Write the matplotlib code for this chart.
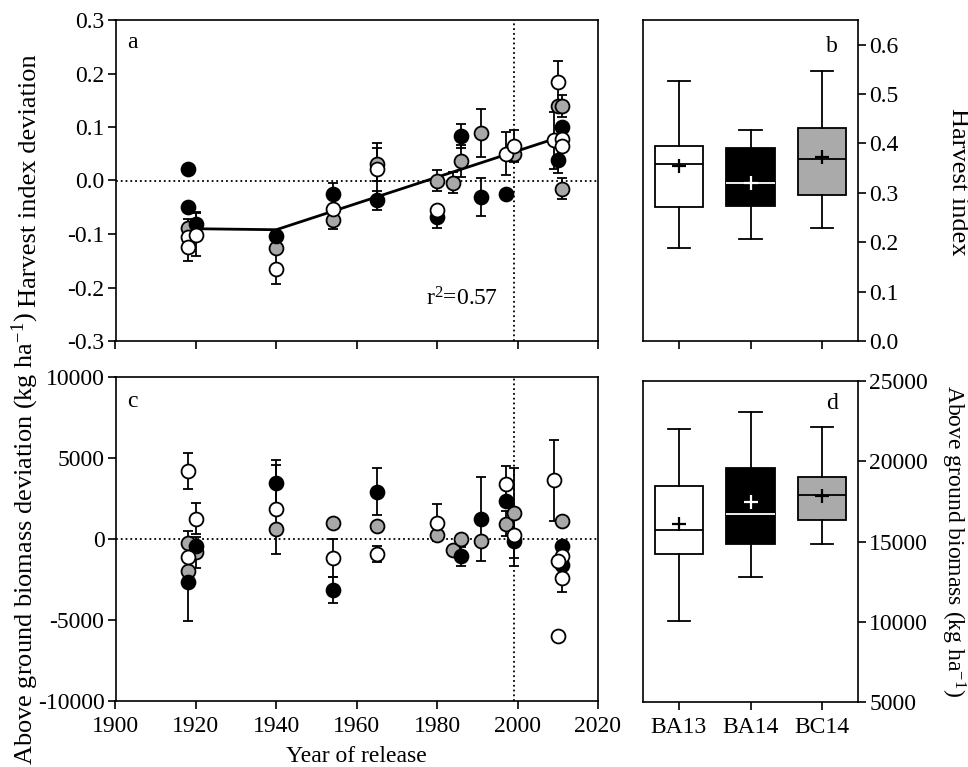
import matplotlib
matplotlib.use("Agg")
import matplotlib.pyplot as plt
import numpy as np

plt.rcParams["font.family"] = ["Liberation Serif", "DejaVu Serif"]
plt.rcParams["mathtext.fontset"] = "custom"
plt.rcParams["mathtext.rm"] = "Liberation Serif"
plt.rcParams["mathtext.it"] = "Liberation Serif:italic"
plt.rcParams["axes.unicode_minus"] = False

# ---------------- harvest index deviation vs. year of release ----------------
hi_ba13_year = [1918, 1918, 1920, 1940, 1954, 1965, 1980, 1997, 1999, 2010, 2009, 2011, 2011]
hi_ba13_dev = [-0.105, -0.124, -0.101, -0.165, -0.053, 0.021, -0.055, 0.050, 0.064, 0.184, 0.075, 0.078, 0.064]
hi_ba13_err = [0.0, 0.027, 0.040, 0.029, 0.0, 0.050, 0.0, 0.040, 0.030, 0.039, 0.053, 0.0, 0.0]

hi_ba14_year = [1918, 1918, 1920, 1940, 1954, 1965, 1980, 1986, 1991, 1997, 2010, 2011]
hi_ba14_dev = [0.021, -0.050, -0.082, -0.104, -0.025, -0.037, -0.068, 0.083, -0.031, -0.025, 0.039, 0.100]
hi_ba14_err = [0.0, 0.0, 0.024, 0.0, 0.021, 0.018, 0.020, 0.022, 0.036, 0.0, 0.025, 0.0]

hi_bc14_year = [1918, 1940, 1954, 1965, 1980, 1984, 1986, 1991, 1999, 2010, 2011, 2011]
hi_bc14_dev = [-0.088, -0.126, -0.074, 0.030, 0.000, -0.004, 0.037, 0.089, 0.049, 0.139, 0.139, -0.015]
hi_bc14_err = [0.016, 0.0, 0.016, 0.031, 0.019, 0.019, 0.030, 0.045, 0.0, 0.0, 0.020, 0.019]

# segmented regression fitted to the harvest index deviation
fit_year = [1918, 1940, 2010]
fit_value = [-0.090, -0.092, 0.080]
fit_r2 = 0.57

# ---------------- biomass deviation vs. year of release ----------------
bm_ba13_year = [1918, 1918, 1920, 1940, 1954, 1965, 1980, 1997, 1999, 2009, 2011, 2010, 2011, 2010]
bm_ba13_dev = [4212, -1120, 1245, 1826, -1183, -913, 996, 3382, 228, 3631, -1037, -1349, -2386, -6017]
bm_ba13_err = [1100, 0, 950, 2740, 1183, 480, 1140, 1100, 0, 2490, 0, 0, 870, 0]

bm_ba14_year = [1918, 1920, 1940, 1954, 1965, 1986, 1991, 1997, 1999, 2011, 2011]
bm_ba14_dev = [-2635, -415, 3445, -3154, 2926, -1079, 1245, 2345, -145, -456, -1598]
bm_ba14_err = [2450, 0, 1430, 780, 1450, 580, 2600, 0, 1515, 0, 0]

bm_bc14_year = [1918, 1918, 1920, 1940, 1954, 1965, 1980, 1984, 1986, 1991, 1997, 1999, 2011]
bm_bc14_dev = [-249, -1971, -830, 643, 996, 788, 228, -664, 21, -104, 954, 1577, 1100]
bm_bc14_err = [730, 0, 975, 0, 0, 0, 0, 0, 0, 0, 790, 2780, 0]

# ---------------- environment summaries (box plots) ----------------
env_names = ["BA13", "BA14", "BC14"]
hi_whislo = [0.188, 0.206, 0.229]
hi_q1 = [0.271, 0.273, 0.295]
hi_med = [0.358, 0.319, 0.368]
hi_q3 = [0.395, 0.390, 0.432]
hi_whishi = [0.526, 0.427, 0.547]
hi_mean = [0.354, 0.320, 0.372]

bm_whislo = [10073, 12817, 14875]
bm_q1 = [14210, 14834, 16331]
bm_med = [15686, 16726, 17869]
bm_q3 = [18430, 19553, 18992]
bm_whishi = [21985, 23087, 22131]
bm_mean = [16102, 17474, 17807]

env_fill = ["#ffffff", "#000000", "#aaaaaa"]
env_inner = ["#000000", "#ffffff", "#000000"]

release_line_year = 1999

FS_TICK = 17
FS_LAB = 19
LW = 1.2

fig = plt.figure(figsize=(9.68, 7.67), dpi=100)
W, H = 968.0, 767.0


def axes_px(left, top, right, bottom):
    return fig.add_axes([left / W, 1 - bottom / H, (right - left) / W, (bottom - top) / H])


ax_a = axes_px(115.5, 20, 598, 341)
ax_c = axes_px(115.5, 377, 598, 701)
ax_b = axes_px(643, 20, 858, 341)
ax_d = axes_px(643, 381, 858, 702)

for ax in (ax_a, ax_b, ax_c, ax_d):
    for s in ax.spines.values():
        s.set_linewidth(LW)
    ax.tick_params(direction="out", length=6, width=LW, labelsize=FS_TICK, pad=2)
    ax.tick_params(axis="x", pad=5)


def draw_series(ax, years, vals, errs, face):
    years = np.asarray(years, float)
    vals = np.asarray(vals, float)
    errs = np.asarray(errs, float)
    m = errs > 0
    ax.errorbar(years[m], vals[m], yerr=errs[m], fmt="none", ecolor="black",
                elinewidth=1.3, capsize=3.5, capthick=1.3, zorder=2)
    ax.plot(years, vals, "o", ms=10, mfc=face, mec="black", mew=1.3,
            linestyle="none", zorder=3)


gray_pt = "#a8a8a8"

# panel a
draw_series(ax_a, hi_bc14_year, hi_bc14_dev, hi_bc14_err, gray_pt)
draw_series(ax_a, hi_ba14_year, hi_ba14_dev, hi_ba14_err, "black")
draw_series(ax_a, hi_ba13_year, hi_ba13_dev, hi_ba13_err, "white")
ax_a.plot(fit_year, fit_value, "-", color="black", lw=2.0, zorder=2.5)
ax_a.axhline(0, color="black", ls=":", lw=1.3, zorder=1)
ax_a.axvline(release_line_year, color="black", ls=":", lw=1.3, zorder=1)
ax_a.set_xlim(1900, 2020)
ax_a.set_ylim(-0.3, 0.3)
ax_a.set_xticks(np.arange(1900, 2021, 20))
ax_a.tick_params(axis="x", labelbottom=False)
ax_a.set_yticks(np.arange(-0.3, 0.31, 0.1))
ax_a.set_yticklabels(["%.1f" % v for v in np.arange(-0.3, 0.31, 0.1)])
ax_a.text(0.034, 0.93, "a", transform=ax_a.transAxes, fontsize=FS_TICK, ha="center", va="center")
ax_a.text(1986.2, -0.222, r"r$\mathregular{^2}$=%.2f" % fit_r2, fontsize=FS_TICK, ha="center", va="center")
ax_a.set_ylabel("Harvest index deviation", fontsize=FS_LAB)

# panel c
draw_series(ax_c, bm_bc14_year, bm_bc14_dev, bm_bc14_err, gray_pt)
draw_series(ax_c, bm_ba14_year, bm_ba14_dev, bm_ba14_err, "black")
draw_series(ax_c, bm_ba13_year, bm_ba13_dev, bm_ba13_err, "white")
ax_c.axhline(0, color="black", ls=":", lw=1.3, zorder=1)
ax_c.axvline(release_line_year, color="black", ls=":", lw=1.3, zorder=1)
ax_c.set_xlim(1900, 2020)
ax_c.set_ylim(-10000, 10000)
ax_c.set_xticks(np.arange(1900, 2021, 20))
ax_c.set_yticks(np.arange(-10000, 10001, 5000))
ax_c.text(0.034, 0.923, "c", transform=ax_c.transAxes, fontsize=FS_TICK, ha="center", va="center")
ax_c.set_xlabel("Year of release", fontsize=FS_TICK, labelpad=6)
ax_c.set_ylabel(r"Above ground biomass deviation (kg ha$\mathregular{^{-1}}$)", fontsize=FS_LAB)

for ax in (ax_a, ax_c):
    ax.yaxis.set_label_coords(-0.155, 0.5)


def draw_boxes(ax, whislo, q1, med, q3, whishi, mean):
    for i in range(len(env_names)):
        st = dict(whislo=whislo[i], q1=q1[i], med=med[i], q3=q3[i],
                  whishi=whishi[i], mean=mean[i], label=env_names[i])
        ax.bxp([st], positions=[i + 1], widths=0.67, capwidths=0.31,
               showmeans=True, showfliers=False, patch_artist=True,
               boxprops=dict(facecolor=env_fill[i], edgecolor="black", linewidth=1.3),
               whiskerprops=dict(color="black", linewidth=1.3),
               capprops=dict(color="black", linewidth=1.3),
               medianprops=dict(color=env_inner[i], linewidth=1.3),
               meanprops=dict(marker="+", markeredgecolor=env_inner[i],
                              markersize=10, markeredgewidth=1.6))
    ax.set_xlim(0.5, 3.5)
    ax.set_xticks([1, 2, 3])
    ax.yaxis.tick_right()


draw_boxes(ax_b, hi_whislo, hi_q1, hi_med, hi_q3, hi_whishi, hi_mean)
ax_b.set_ylim(0, 0.65)
ax_b.set_yticks(np.arange(0, 0.61, 0.1))
ax_b.set_yticklabels(["%.1f" % v for v in np.arange(0, 0.61, 0.1)])
ax_b.tick_params(axis="x", labelbottom=False)
ax_b.text(0.879, 0.916, "b", transform=ax_b.transAxes, fontsize=FS_TICK, ha="center", va="center")

draw_boxes(ax_d, bm_whislo, bm_q1, bm_med, bm_q3, bm_whishi, bm_mean)
ax_d.set_ylim(5000, 25000)
ax_d.set_yticks(np.arange(5000, 25001, 5000))
ax_d.set_xticklabels(env_names)
ax_d.text(0.879, 0.93, "d", transform=ax_d.transAxes, fontsize=FS_TICK, ha="center", va="center")

fig.text(958 / W, 1 - 182 / H, "Harvest index", rotation=270, fontsize=FS_LAB,
         ha="center", va="center")
fig.text(953 / W, 1 - 541 / H, r"Above ground biomass (kg ha$\mathregular{^{-1}}$)",
         rotation=270, fontsize=17, ha="center", va="center")

fig.savefig("out.png", dpi=100)
